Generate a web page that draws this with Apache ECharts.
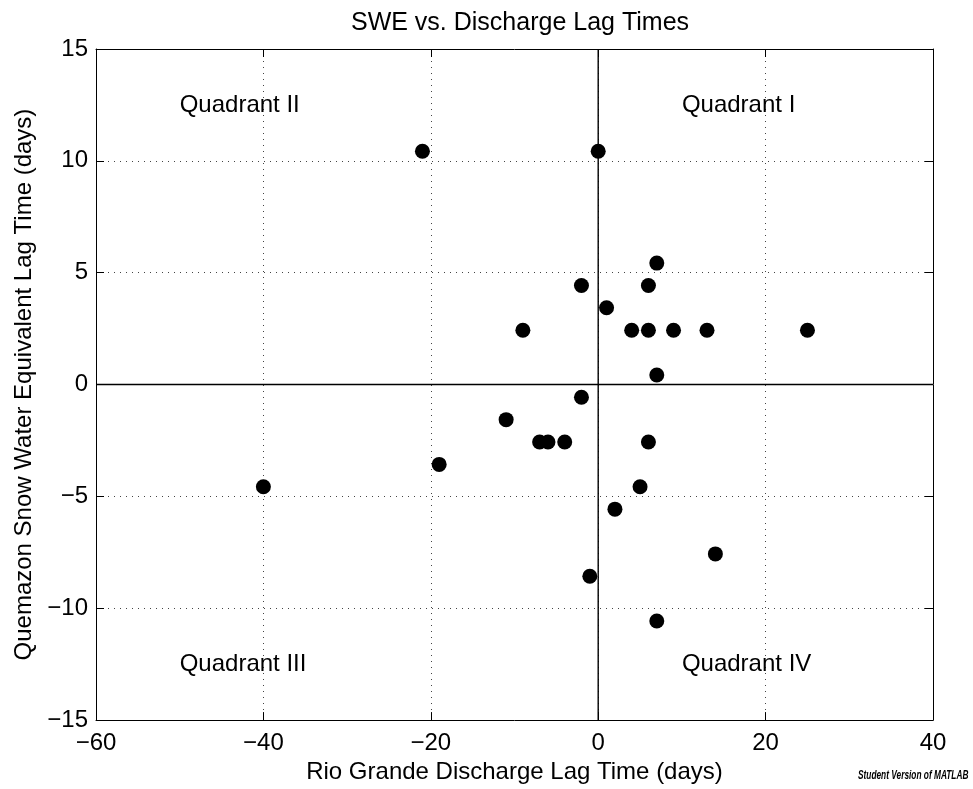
<!DOCTYPE html>
<html>
<head>
<meta charset="utf-8">
<script src="https://cdn.jsdelivr.net/npm/echarts@6/dist/echarts.min.js"></script>
<style>
html,body{margin:0;padding:0;background:#fff;}
#chart{width:973px;height:789px;}
</style>
</head>
<body>
<div id="chart"></div>
<script>
// Rio Grande discharge lag time (days)
const xValues = [-21, 0, 7, -2, 6, 1, -9, 4, 6, 9, 13, 25, 7, -2, -11, -7, -6, -4, -19, -40, 6, 5, 2, 14, -1, 7];
// Quemazon SWE lag time (days)
const yValues = [10.43, 10.43, 5.43, 4.43, 4.43, 3.43, 2.43, 2.43, 2.43, 2.43, 2.43, 2.43, 0.43, -0.57, -1.57, -2.57, -2.57, -2.57, -3.57, -4.57, -2.57, -4.57, -5.57, -7.57, -8.57, -10.57];
const quadrantLabels = ['Quadrant I', 'Quadrant II', 'Quadrant III', 'Quadrant IV'];
const quadrantX = [10, -50, -50, 10];
const quadrantY = [12.5, 12.5, -12.5, -12.5];
const xTicks = [-60, -40, -20, 0, 20, 40];
const yTicks = [-15, -10, -5, 0, 5, 10, 15];

const FONT = '"Liberation Sans", Arial, Helvetica, sans-serif';
const points = xValues.map((x, i) => [x, yValues[i]]);
const labelData = quadrantLabels.map((t, i) => ({ value: [quadrantX[i], quadrantY[i]], name: t }));
const fmt = v => (v < 0 ? '\u2212' + Math.abs(v) : String(v));

const gridLine = { show: true, lineStyle: { color: '#444', type: [1, 5], width: 1 } };
const baseAxis = {
  axisLine: { show: true, onZero: false, lineStyle: { color: '#000', width: 1 } },
  axisTick: { show: true, inside: true, length: 8, lineStyle: { color: '#000' } },
};

const chart = echarts.init(document.getElementById('chart'), null, { renderer: 'canvas' });
chart.setOption({
  animation: false,
  backgroundColor: '#fff',
  title: {
    text: 'SWE vs. Discharge Lag Times',
    left: 515, top: 6, textAlign: 'center',
    textStyle: { fontFamily: FONT, fontSize: 25, fontWeight: 'normal', color: '#000' }
  },
  graphic: [{
    type: 'text', x: 858, y: 769, scaleX: 0.64,
    style: { text: 'Student Version of MATLAB', font: 'italic bold 13px ' + FONT, fill: '#000' }
  }],
  grid: { left: 96, right: 40, top: 49, bottom: 68, containLabel: false },
  xAxis: [
    Object.assign({}, baseAxis, {
      type: 'value', min: -60, max: 40, interval: 20, position: 'bottom',
      name: 'Rio Grande Discharge Lag Time (days)', nameLocation: 'middle', nameGap: 34,
      nameTextStyle: { fontFamily: FONT, fontSize: 24, color: '#000' },
      axisLabel: { margin: 11, fontFamily: FONT, fontSize: 24, color: '#000', formatter: fmt },
      splitLine: gridLine
    }),
    Object.assign({}, baseAxis, {
      type: 'value', min: -60, max: 40, interval: 20, position: 'top',
      axisLabel: { show: false }, splitLine: { show: false }
    })
  ],
  yAxis: [
    Object.assign({}, baseAxis, {
      type: 'value', min: -15, max: 15, interval: 5, position: 'left',
      name: 'Quemazon Snow Water Equivalent Lag Time (days)', nameLocation: 'middle', nameGap: 54,
      nameTextStyle: { fontFamily: FONT, fontSize: 24, color: '#000' },
      axisLabel: { margin: 8, fontFamily: FONT, fontSize: 24, color: '#000', formatter: fmt },
      splitLine: gridLine
    }),
    Object.assign({}, baseAxis, {
      type: 'value', min: -15, max: 15, interval: 5, position: 'right',
      axisLabel: { show: false }, splitLine: { show: false }
    })
  ],
  series: [
    {
      type: 'line', data: [[0, -15], [0, 15]], symbol: 'none', silent: true,
      lineStyle: { color: '#000', width: 1.4 }, z: 2
    },
    {
      type: 'line', data: [[-60, 0], [40, 0]], symbol: 'none', silent: true,
      lineStyle: { color: '#000', width: 1.4 }, z: 2
    },
    {
      type: 'scatter', data: points, symbol: 'circle', symbolSize: 15,
      itemStyle: { color: '#000', opacity: 1 }, z: 3
    },
    {
      type: 'scatter', data: labelData, symbolSize: 0, silent: true,
      itemStyle: { color: '#000', opacity: 1 },
      label: {
        show: true, position: 'right', distance: 0, formatter: p => p.name,
        fontFamily: FONT, fontSize: 24, color: '#000', opacity: 1
      }, z: 4
    }
  ]
});
</script>
</body>
</html>
